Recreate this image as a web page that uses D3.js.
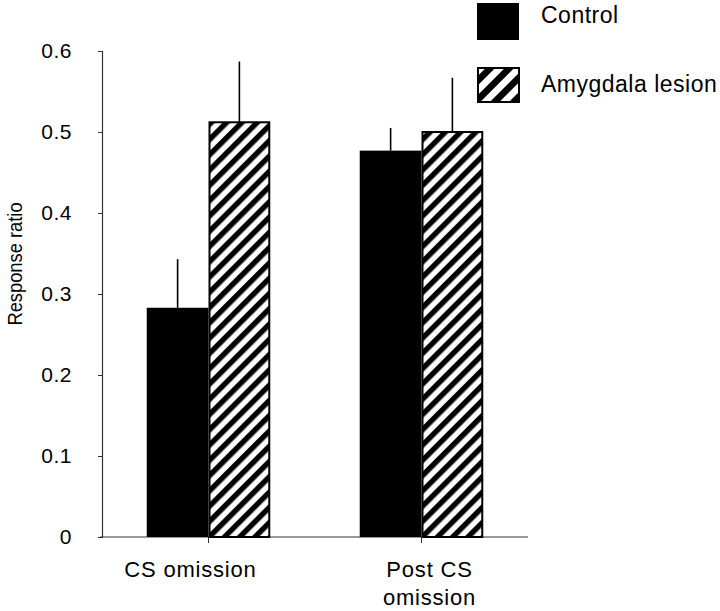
<!DOCTYPE html>
<html>
<head>
<meta charset="utf-8">
<script src="https://cdn.jsdelivr.net/npm/d3@7"></script>
<style>
  body { margin: 0; background: #fff; }
  text { font-family: "Liberation Sans", Arial, sans-serif; fill: #000; }
</style>
</head>
<body>
<svg id="chart" width="720" height="611"></svg>
<script>
// Data
const categories = ["CS omission", "Post CS omission"];
const categoryLines = [["CS omission"], ["Post CS", "omission"]];
const seriesNames = ["Control", "Amygdala lesion"];
const controlValues = [0.283, 0.477];
const controlErrors = [0.060, 0.028];
const lesionValues = [0.512, 0.500];
const lesionErrors = [0.075, 0.067];
const yTicks = [0, 0.1, 0.2, 0.3, 0.4, 0.5, 0.6];
const yTickLabels = ["0", "0.1", "0.2", "0.3", "0.4", "0.5", "0.6"];

const svg = d3.select("#chart");

const defs = svg.append("defs");
function makeHatch(id, period) {
  const p = defs.append("pattern")
    .attr("id", id)
    .attr("patternUnits", "userSpaceOnUse")
    .attr("width", period).attr("height", period)
    .attr("patternTransform", "rotate(45)");
  p.append("rect").attr("width", period).attr("height", period).attr("fill", "#fff");
  p.append("rect").attr("x", 0).attr("width", period / 2).attr("height", period).attr("fill", "#000");
}
makeHatch("hatch", 10.8);
makeHatch("hatchLegend", 13.5);

const x0 = d3.scaleBand().domain(categories).range([102, 528]).paddingInner(0.42).paddingOuter(0.21);
const x1 = d3.scaleBand().domain(seriesNames).range([0, x0.bandwidth()]);
const y = d3.scaleLinear().domain([0, 0.6]).range([537, 51]);

const data = categories.map((c, i) => ({
  cat: c,
  bars: [
    { s: seriesNames[0], v: controlValues[i], e: controlErrors[i] },
    { s: seriesNames[1], v: lesionValues[i], e: lesionErrors[i] }
  ]
}));

// Y axis
const yAxis = d3.axisLeft(y).tickValues(yTicks)
  .tickFormat((d, i) => yTickLabels[i]).tickSize(4).tickPadding(26);
const gy = svg.append("g").attr("transform", "translate(102,0)").call(yAxis);
gy.select(".domain").attr("stroke", "#333").attr("stroke-width", 1.2);
gy.selectAll(".tick line").attr("stroke", "#333");
gy.selectAll(".tick text").style("font-size", "21px").style("letter-spacing", "0.5px").attr("dy", "0.3em");

// X axis line and ticks
const gx = svg.append("g").attr("transform", "translate(0,537)");
gx.append("line").attr("x1", 100).attr("x2", 528).attr("stroke", "#333").attr("stroke-width", 1.2);
gx.selectAll(".xt").data(categories).join("line")
  .attr("x1", d => x0(d) + x0.bandwidth() / 2)
  .attr("x2", d => x0(d) + x0.bandwidth() / 2)
  .attr("y1", 0).attr("y2", 6).attr("stroke", "#333");

// Bars
const groups = svg.selectAll(".grp").data(data).join("g")
  .attr("transform", d => `translate(${x0(d.cat)},0)`);

groups.selectAll(".err").data(d => d.bars).join("line")
  .attr("x1", d => x1(d.s) + x1.bandwidth() / 2)
  .attr("x2", d => x1(d.s) + x1.bandwidth() / 2)
  .attr("y1", d => y(d.v)).attr("y2", d => y(d.v + d.e))
  .attr("stroke", "#000").attr("stroke-width", 1.6);

groups.selectAll(".bar").data(d => d.bars).join("rect")
  .attr("x", d => x1(d.s) + (d.s === seriesNames[1] ? 1 : 0))
  .attr("y", d => y(d.v))
  .attr("width", d => x1.bandwidth() - (d.s === seriesNames[1] ? 2 : 0))
  .attr("height", d => y(0) - y(d.v))
  .attr("fill", d => d.s === seriesNames[0] ? "#000" : "url(#hatch)")
  .attr("stroke", d => d.s === seriesNames[0] ? "none" : "#000")
  .attr("stroke-width", 2);

// Category labels
const catOffsets = [-18, 8];
svg.selectAll(".cat").data(categories).join("text")
  .attr("text-anchor", "middle")
  .style("font-size", "22px")
  .style("letter-spacing", "0.8px")
  .each(function (d, i) {
    const t = d3.select(this);
    const cx = x0(d) + x0.bandwidth() / 2 + catOffsets[i];
    categoryLines[i].forEach((line, j) => {
      t.append("tspan").attr("x", cx).attr("y", 577 + j * 28).text(line);
    });
  });

// Y label
svg.append("text")
  .attr("transform", "translate(22,264) rotate(-90) scale(0.94,1)")
  .attr("text-anchor", "middle")
  .style("font-size", "19.5px")
  .text("Response ratio");

// Legend
const legend = svg.append("g");
seriesNames.forEach((s, i) => {
  legend.append("rect")
    .attr("x", i === 0 ? 477 : 478).attr("y", i === 0 ? 3 : 68)
    .attr("width", i === 0 ? 42 : 41).attr("height", i === 0 ? 37 : 34)
    .attr("fill", i === 0 ? "#000" : "url(#hatchLegend)")
    .attr("stroke", i === 0 ? "none" : "#000").attr("stroke-width", 2);
  legend.append("text")
    .attr("x", 541).attr("y", i === 0 ? 23 : 92)
    .style("font-size", "23px")
    .style("letter-spacing", "0.5px")
    .text(s);
});
</script>
</body>
</html>
